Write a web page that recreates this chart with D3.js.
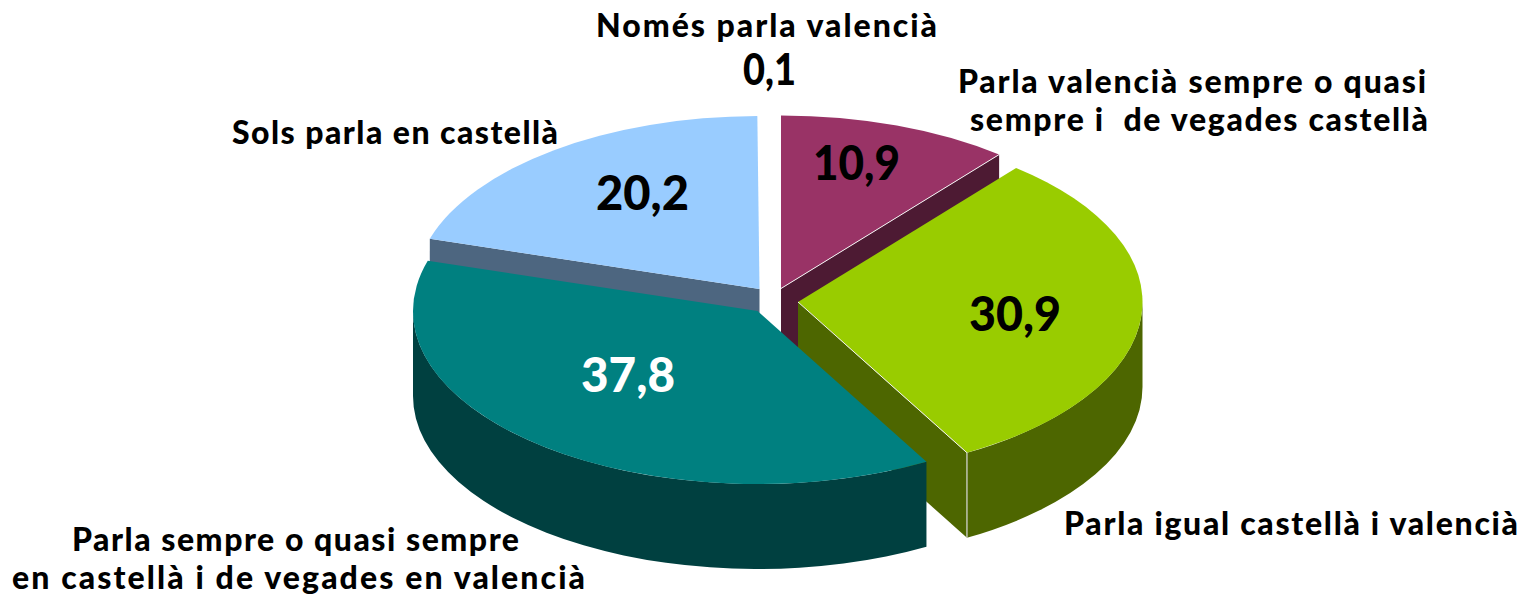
<!DOCTYPE html>
<html><head><meta charset="utf-8">
<script src="https://cdn.jsdelivr.net/npm/d3@7"></script>
<style>html,body{margin:0;background:#fff}svg{display:block}text{font-family:Lato,"Open Sans",sans-serif;font-weight:900;fill:#000}</style>
</head><body><svg id="c" width="1524" height="596"></svg>
<script>
// DATA
const categories = ["Parla valencià sempre o quasi sempre i  de vegades castellà","Parla igual castellà i valencià","Parla sempre o quasi sempre en castellà i de vegades en valencià","Sols parla en castellà","Només parla valencià"];
const values = [10.9, 30.9, 37.8, 20.2, 0.1];
const valueLabels = ["10,9","30,9","37,8","20,2","0,1"];
const labelLines = [["Parla valencià sempre o quasi","sempre i  de vegades castellà"],["Parla igual castellà i valencià"],["Parla sempre o quasi sempre","en castellà i de vegades en valencià"],["Sols parla en castellà"],["Només parla valencià"]];

// STYLE & LAYOUT
const topColors  = ["#993366","#99cc00","#008080","#99ccff","#ffffff"];
const wallColors = ["#4d1a33","#4d6600","#004040","#4d6680","#ffffff"];
const valueColors = ["#000","#000","#fff","#000","#000"];
const apex = [[781,288.5],[798,302],[757.5,311],[759.5,289],[760,289]];
const drawOrder = [4,0,3,1,2];
const RX = 344.5, RY = 173, DEPTH = 85;
const valueBoxes = [[813,180,87,47],[969,331,92,47],[581,392,94,47],[596,210,93,47],[743,85,53,43]];
const labelBoxes = [[[958,93,468],[970,131,458]],[[1064,535,454]],[[72,551,447],[12,589,573]],[[232,144,326]],[[596,37,341]]];
const LABEL_SIZE = 32;

const svg = d3.select("#c");
const pie = d3.pie().sort(null).value(d=>d).startAngle(0).endAngle(2*Math.PI);
const arcs = pie(values);
const arc = d3.arc().innerRadius(0).outerRadius(RX);
const pt = (c,a)=>[c[0]+RX*Math.sin(a), c[1]-RY*Math.cos(a)];
const line = d3.line();

function wallPath(c,a0,a1){
  const s=Math.max(a0,Math.PI/2), e=Math.min(a1,3*Math.PI/2);
  if(e<=s) return null;
  const p0=pt(c,s), p1=pt(c,e);
  return `M${p0}A${RX},${RY} 0 0 1 ${p1}L${p1[0]},${p1[1]+DEPTH}A${RX},${RY} 0 0 0 ${p0[0]},${p0[1]+DEPTH}Z`;
}
function facePath(c,a){
  const p=pt(c,a);
  return line([c,p,[p[0],p[1]+DEPTH],[c[0],c[1]+DEPTH]])+"Z";
}
drawOrder.forEach(i=>{
  const d=arcs[i], c=apex[i], g=svg.append("g");
  if(values[i]>=1){
    [[d.startAngle,-1],[d.endAngle,1]].forEach(([a,side])=>{
      if(Math.cos(a+side*Math.PI/2)<-1e-3)
        g.append("path").attr("d",facePath(c,a)).attr("fill",wallColors[i]);
    });
    const w=wallPath(c,d.startAngle,d.endAngle);
    if(w) g.append("path").attr("d",w).attr("fill",wallColors[i]);
  }
  g.append("path").attr("d",arc(d))
    .attr("transform",`translate(${c}) scale(1,${RY/RX})`)
    .attr("fill",topColors[i]);
  if(i===0||i===1){
    const p=pt(c,d.endAngle);
    g.append("path").attr("d",line([c,p])).attr("stroke","#f2f2f2").attr("stroke-width",1).attr("fill","none");
    if(i===1) g.append("path").attr("d",line([p,[p[0],p[1]+DEPTH]])).attr("stroke","#d9d9d9").attr("stroke-width",1.2).attr("fill","none");
  }
});

svg.selectAll("text.v").data(valueLabels).join("text").attr("class","v")
  .attr("x",(d,i)=>valueBoxes[i][0]).attr("y",(d,i)=>valueBoxes[i][1])
  .attr("textLength",(d,i)=>valueBoxes[i][2]).attr("lengthAdjust","spacingAndGlyphs")
  .attr("font-size",(d,i)=>valueBoxes[i][3]).style("fill",(d,i)=>valueColors[i]).text(d=>d);

labelLines.forEach((lines,i)=>lines.forEach((t,j)=>{
  const b=labelBoxes[i][j];
  svg.append("text").attr("x",b[0]).attr("y",b[1]).attr("textLength",b[2]).attr("lengthAdjust","spacing")
    .attr("font-size",LABEL_SIZE).attr("xml:space","preserve").text(t);
}));
</script></body></html>
